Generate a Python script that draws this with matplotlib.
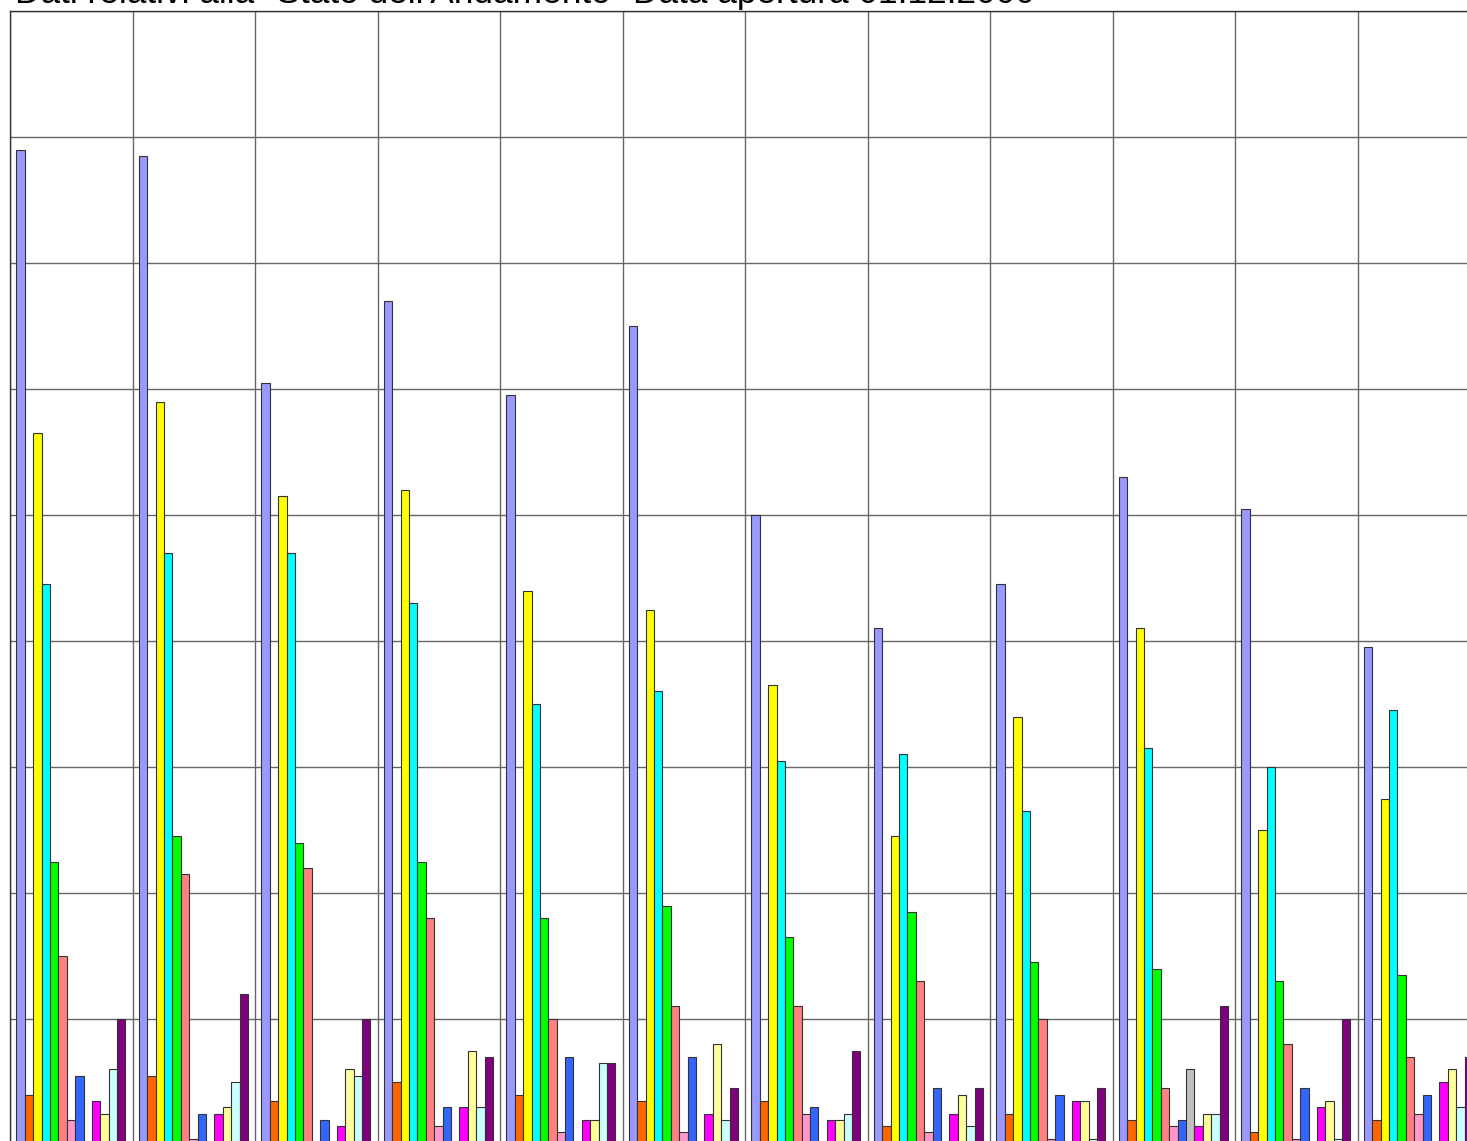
import numpy as np
import matplotlib
matplotlib.use('Agg')
import matplotlib.pyplot as plt

titolo = 'Dati relativi alla "Stato dell\'Andamento" Data apertura 01.12.2000'

# one list per series, 12 groups each
s_lilla = [158, 157, 121, 134, 119, 130, 100, 82, 89, 106, 101, 79]
s_arancio = [8, 11, 7, 10, 8, 7, 7, 3, 5, 4, 2, 4]
s_giallo = [113, 118, 103, 104, 88, 85, 73, 49, 68, 82, 50, 55]
s_ciano = [89, 94, 94, 86, 70, 72, 61, 62, 53, 63, 60, 69]
s_verde = [45, 49, 48, 45, 36, 38, 33, 37, 29, 28, 26, 27]
s_salmone = [30, 43, 44, 36, 20, 22, 22, 26, 20, 9, 16, 14]
s_rosa = [4, 1, 0, 3, 2, 2, 5, 2, 1, 3, 1, 5]
s_blu = [11, 5, 4, 6, 14, 14, 6, 9, 8, 4, 9, 8]
s_grigio = [0, 0, 0, 0, 0, 0, 0, 0, 0, 12, 0, 0]
s_magenta = [7, 5, 3, 6, 4, 5, 4, 5, 7, 3, 6, 10]
s_giallino = [5, 6, 12, 15, 4, 16, 4, 8, 7, 5, 7, 12]
s_azzurrino = [12, 10, 11, 6, 13, 4, 5, 3, 1, 5, 1, 6]
s_viola = [20, 24, 20, 14, 13, 9, 15, 9, 9, 22, 20, 14]

serie = [s_lilla, s_arancio, s_giallo, s_ciano, s_verde, s_salmone, s_rosa,
         s_blu, s_grigio, s_magenta, s_giallino, s_azzurrino, s_viola]
colori = ['#9999FF', '#FF6600', '#FFFF00', '#00FFFF', '#00FF00', '#FF8080',
          '#FF99CC', '#3366FF', '#C0C0C0', '#FF00FF', '#FFFF99', '#CCFFFF',
          '#800080']

W, H = 1467, 1141
fig = plt.figure(figsize=(W / 100, H / 100), dpi=100)
# plot area runs past the right and bottom edges of the picture
ax = fig.add_axes([10 / W, -4 / H, 1470 / W, 1134 / H])

n_gruppi = len(s_lilla)
x = np.arange(n_gruppi)
larg = 0.0685
inizio = 0.052
for k, (vals, col) in enumerate(zip(serie, colori)):
    ax.bar(x + inizio + k * larg, vals, width=larg, align='edge', color=col,
           edgecolor='#333333', linewidth=0.8, zorder=3)

ax.set_xlim(0, n_gruppi)
ax.set_ylim(0, 180)
ax.set_xticks(np.arange(n_gruppi + 1))
ax.set_yticks(np.arange(0, 181, 20))
ax.tick_params(length=0, labelbottom=False, labelleft=False)
ax.grid(True, color='#666666', linewidth=1.0, zorder=0)
for sp in ax.spines.values():
    sp.set_color('#333333')
    sp.set_linewidth(1.0)

# title sits mostly above the top edge, as in the source
fig.text(15 / W, 1 - 3 / H, titolo, fontsize=25.4, family='Liberation Sans',
         va='baseline', ha='left')

fig.savefig('out.png', dpi=100)
